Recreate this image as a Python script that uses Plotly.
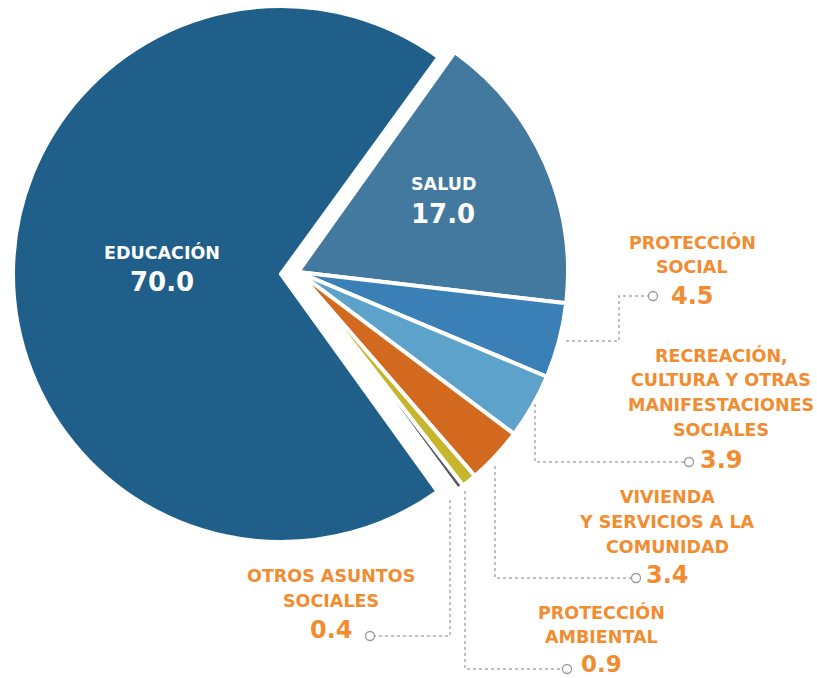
import plotly.graph_objects as go

# ---- data ----
categories = ["SALUD", "PROTECCIÓN SOCIAL", "RECREACIÓN, CULTURA Y OTRAS MANIFESTACIONES SOCIALES",
              "VIVIENDA Y SERVICIOS A LA COMUNIDAD", "PROTECCIÓN AMBIENTAL",
              "OTROS ASUNTOS SOCIALES", "EDUCACIÓN"]
values = [17.0, 4.5, 3.9, 3.4, 0.9, 0.4, 70.0]
label_lines = [["SALUD"], ["PROTECCIÓN", "SOCIAL"],
               ["RECREACIÓN,", "CULTURA Y OTRAS", "MANIFESTACIONES", "SOCIALES"],
               ["VIVIENDA", "Y SERVICIOS A LA", "COMUNIDAD"],
               ["PROTECCIÓN", "AMBIENTAL"], ["OTROS ASUNTOS", "SOCIALES"], ["EDUCACIÓN"]]
colors = ["#43799E", "#3A7FB6", "#5DA2CB", "#D2691E", "#C6B62E", "#58595B", "#1F5F8A"]

W, H = 817, 678
ORANGE = "#F28C30"
FONT = "DejaVu Sans"


def px(x):
    return x / W


def py(y):
    return 1 - y / H


def dom(cx, cy, r):
    return dict(x=[px(cx - r), px(cx + r)], y=[py(cy + r), py(cy - r)])


TRANSP = "rgba(0,0,0,0)"
edu_idx = categories.index("EDUCACIÓN")

# group A: Educación (pulled to the left)
colA = [c if i == edu_idx else TRANSP for i, c in enumerate(colors)]
lwA = [4 if i == edu_idx else 0 for i in range(len(values))]
# group B: the rest
colB = [TRANSP if i == edu_idx else c for i, c in enumerate(colors)]
lwB = [0 if i == edu_idx else 4 for i in range(len(values))]

fig = go.Figure()
fig.add_trace(go.Pie(labels=categories, values=values, sort=False, direction="clockwise",
                     rotation=36, domain=dom(281, 274, 268), textinfo="none",
                     textposition="none", hoverinfo="skip",
                     marker=dict(colors=colA, line=dict(color="white", width=lwA)),
                     showlegend=False))
fig.add_trace(go.Pie(labels=categories, values=values, sort=False, direction="clockwise",
                     rotation=35.5, domain=dom(298, 272, 270), textinfo="none",
                     textposition="none", hoverinfo="skip",
                     marker=dict(colors=colB, line=dict(color="white", width=lwB)),
                     showlegend=False))

annotations = []
shapes = []


def ann(x, y, text, size, color, weight="bold"):
    annotations.append(dict(x=px(x), y=py(y), xref="paper", yref="paper", text=text,
                            showarrow=False, xanchor="center", yanchor="middle",
                            borderpad=0,
                            font=dict(family=FONT, size=size, color=color, weight=weight)))


# inside labels
ann(162, 252, label_lines[edu_idx][0], 17.5, "white")
ann(162, 282, f"{values[edu_idx]:.1f}", 26, "white")
ann(443, 184, label_lines[0][0], 17.5, "white")
ann(443, 214, f"{values[0]:.1f}", 26, "white")

# outside labels: (index, center x, first line y, number y, number size)
outside = [(1, 692, 242, 296, 24), (2, 721, 355, 460, 24), (3, 667, 497, 575, 24),
           (4, 601, 612, 663.5, 23), (5, 331, 576, 630, 24)]
STEP = 25
for i, x, y0, yv, fs in outside:
    for k, line in enumerate(label_lines[i]):
        ann(x, y0 + k * STEP, line, 17.5, ORANGE)
    ann(x, yv, f"{values[i]:.1f}", fs, ORANGE)

# leader lines and end circles
leaders = [
    [(566, 341), (619, 341), (619, 296), (649, 296)],
    [(535, 404), (535, 462), (685, 462)],
    [(495, 466), (495, 578), (632, 578)],
    [(465, 491), (465, 669), (563, 669)],
    [(450, 500), (450, 636), (374, 636)],
]
circles = [(653, 296), (689, 462), (636, 578), (567, 669), (370, 636)]
for pts in leaders:
    path = "M " + " L ".join(f"{px(x):.5f},{py(y):.5f}" for x, y in pts)
    shapes.append(dict(type="path", path=path, xref="paper", yref="paper",
                       line=dict(color="#AAAAAA", width=1.5, dash="dot")))
for cx, cy in circles:
    r = 4.5
    shapes.append(dict(type="circle", xref="paper", yref="paper",
                       x0=px(cx - r), x1=px(cx + r), y0=py(cy + r), y1=py(cy - r),
                       line=dict(color="#999999", width=1.3), fillcolor="white"))

fig.update_layout(width=W, height=H, margin=dict(l=0, r=0, t=0, b=0),
                  paper_bgcolor="white", plot_bgcolor="white",
                  annotations=annotations, shapes=shapes, showlegend=False)

fig.write_html("out.html", config={"displayModeBar": False},
               post_script="document.body.style.margin='0';")
